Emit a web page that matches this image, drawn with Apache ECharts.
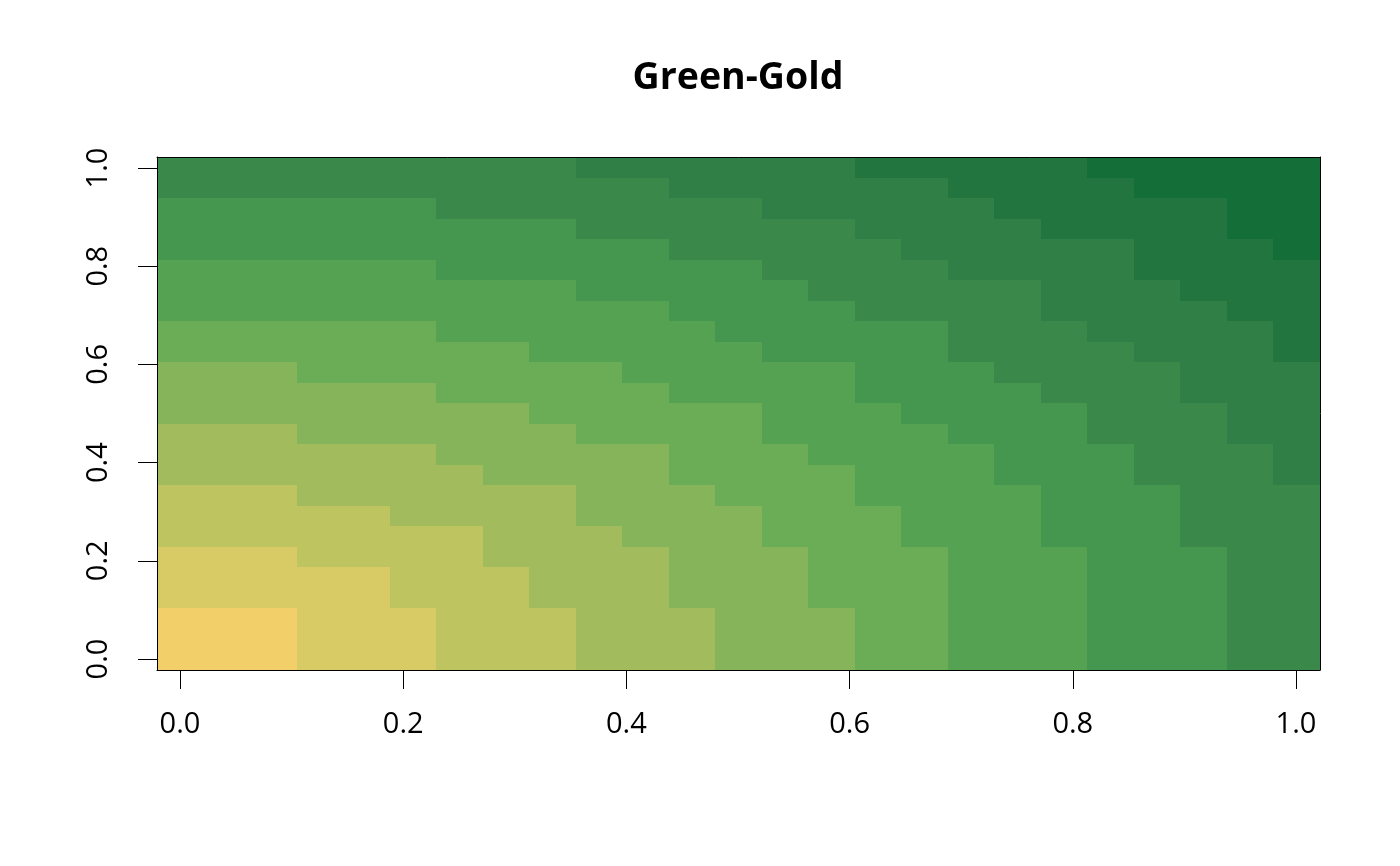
<!DOCTYPE html>
<html>
<head>
<meta charset="utf-8">
<script src="https://cdn.jsdelivr.net/npm/echarts@6/dist/echarts.min.js"></script>
<style>
html,body{margin:0;padding:0;background:#fff;}
#chart{width:1400px;height:866px;}
</style>
</head>
<body>
<div id="chart"></div>
<script>
const titleText = 'Green-Gold';
const xValues = [0, 0.04167, 0.08333, 0.125, 0.16667, 0.20833, 0.25, 0.29167, 0.33333, 0.375, 0.41667, 0.45833, 0.5, 0.54167, 0.58333, 0.625, 0.66667, 0.70833, 0.75, 0.79167, 0.83333, 0.875, 0.91667, 0.95833, 1];
const yValues = [0, 0.04167, 0.08333, 0.125, 0.16667, 0.20833, 0.25, 0.29167, 0.33333, 0.375, 0.41667, 0.45833, 0.5, 0.54167, 0.58333, 0.625, 0.66667, 0.70833, 0.75, 0.79167, 0.83333, 0.875, 0.91667, 0.95833, 1];
// colour level per cell (base-12 digit), one string per y row from bottom (y=0) to top (y=1)
const levelRows = [
  '0001112223334445566677788',
  '0001112223334445566677788',
  '0001112223334445566677788',
  '1111122233344455566677788',
  '1111122233344455566677788',
  '1112222333344455566677788',
  '2222222333444555666777888',
  '2222233334444555666777888',
  '2223333334445556666777888',
  '3333333444455556667778889',
  '3333334444455566667778889',
  '3334444445555666677788899',
  '4444444455555666777788899',
  '4444445555566667777888999',
  '4445555555666667778888999',
  '555555556666677778888999a',
  '555555666666777778889999a',
  '66666666666777788889999aa',
  '6666666667777788888999aaa',
  '666666777777788889999aaaa',
  '777777777778888899999aaab',
  '7777777778888889999aaaabb',
  '777777888888899999aaaaabb',
  '88888888888999999aaaabbbb',
  '888888888999999aaaaabbbbb'
];
const palette = ['#F2CF69', '#D8CA65', '#BEC460', '#A2BC5D', '#86B45A', '#6BAC57', '#56A253', '#45964F', '#3A894B', '#307F46', '#23753F', '#146E38'];
const tickLabels = ['0.0', '0.2', '0.4', '0.6', '0.8', '1.0'];
</script>
<script>
const halfX = (xValues[1] - xValues[0]) / 2;
const halfY = (yValues[1] - yValues[0]) / 2;
const xMin = xValues[0] - halfX, xMax = xValues[xValues.length - 1] + halfX;
const yMin = yValues[0] - halfY, yMax = yValues[yValues.length - 1] + halfY;

const data = [];
for (let j = 0; j < yValues.length; j++) {
  for (let i = 0; i < xValues.length; i++) {
    data.push([xValues[i], yValues[j], parseInt(levelRows[j][i], 12)]);
  }
}

function renderItem(params, api) {
  const x = api.value(0), y = api.value(1), lv = api.value(2);
  const p0 = api.coord([x - halfX, y + halfY]);
  const p1 = api.coord([x + halfX, y - halfY]);
  const x0 = Math.round(p0[0]), y0 = Math.round(p0[1]);
  const x1 = Math.round(p1[0]), y1 = Math.round(p1[1]);
  return {
    type: 'rect',
    shape: { x: x0, y: y0, width: x1 - x0, height: y1 - y0 },
    style: { fill: palette[lv], stroke: null }
  };
}

const FONT = "'Open Sans', 'Noto Sans', sans-serif";
const boxAxis = (pos, grid, min, max) => ({
  gridIndex: grid, type: 'value', min: min, max: max, position: pos, z: 5,
  axisLine: { show: true, onZero: false, lineStyle: { color: '#000', width: 1 } },
  axisTick: { show: false }, axisLabel: { show: false }, splitLine: { show: false }
});
const hidden = (grid) => ({ gridIndex: grid, type: 'value', min: 0, max: 1, show: false });
const fmt = v => tickLabels[Math.round(v * 5)];

const chart = echarts.init(document.getElementById('chart'), null, { renderer: 'canvas' });
chart.setOption({
  backgroundColor: '#fff',
  animation: false,
  title: {
    text: titleText, left: 733, top: 54, textAlign: 'center',
    textStyle: { fontFamily: FONT, fontSize: 37.5, fontWeight: 'bold', color: '#000' }
  },
  grid: [
    { left: 157, top: 157, width: 1163, height: 513 },
    { left: 180, top: 600, width: 1116, height: 70 },
    { left: 157, top: 168, width: 100, height: 491 }
  ],
  xAxis: [
    boxAxis('bottom', 0, xMin, xMax),
    boxAxis('top', 0, xMin, xMax),
    {
      gridIndex: 1, type: 'value', min: 0, max: 1, interval: 0.2, position: 'bottom', z: 5,
      axisLine: { show: true, onZero: false, lineStyle: { color: '#000', width: 1 } },
      axisTick: { show: true, inside: false, length: 19, lineStyle: { color: '#000', width: 1 } },
      axisLabel: { show: true, margin: 40, fontFamily: FONT, fontSize: 29, color: '#000', formatter: fmt },
      splitLine: { show: false }
    },
    hidden(2)
  ],
  yAxis: [
    boxAxis('left', 0, yMin, yMax),
    boxAxis('right', 0, yMin, yMax),
    hidden(1),
    {
      gridIndex: 2, type: 'value', min: 0, max: 1, interval: 0.2, position: 'left', z: 5,
      axisLine: { show: true, onZero: false, lineStyle: { color: '#000', width: 1 } },
      axisTick: { show: true, inside: false, length: 19, lineStyle: { color: '#000', width: 1 } },
      axisLabel: { show: true, rotate: 90, margin: 44, fontFamily: FONT, fontSize: 29, color: '#000', formatter: fmt },
      splitLine: { show: false }
    }
  ],
  series: [{
    type: 'custom',
    xAxisIndex: 0, yAxisIndex: 0,
    renderItem: renderItem,
    data: data,
    z: 1,
    silent: true
  }]
});
</script>
</body>
</html>
